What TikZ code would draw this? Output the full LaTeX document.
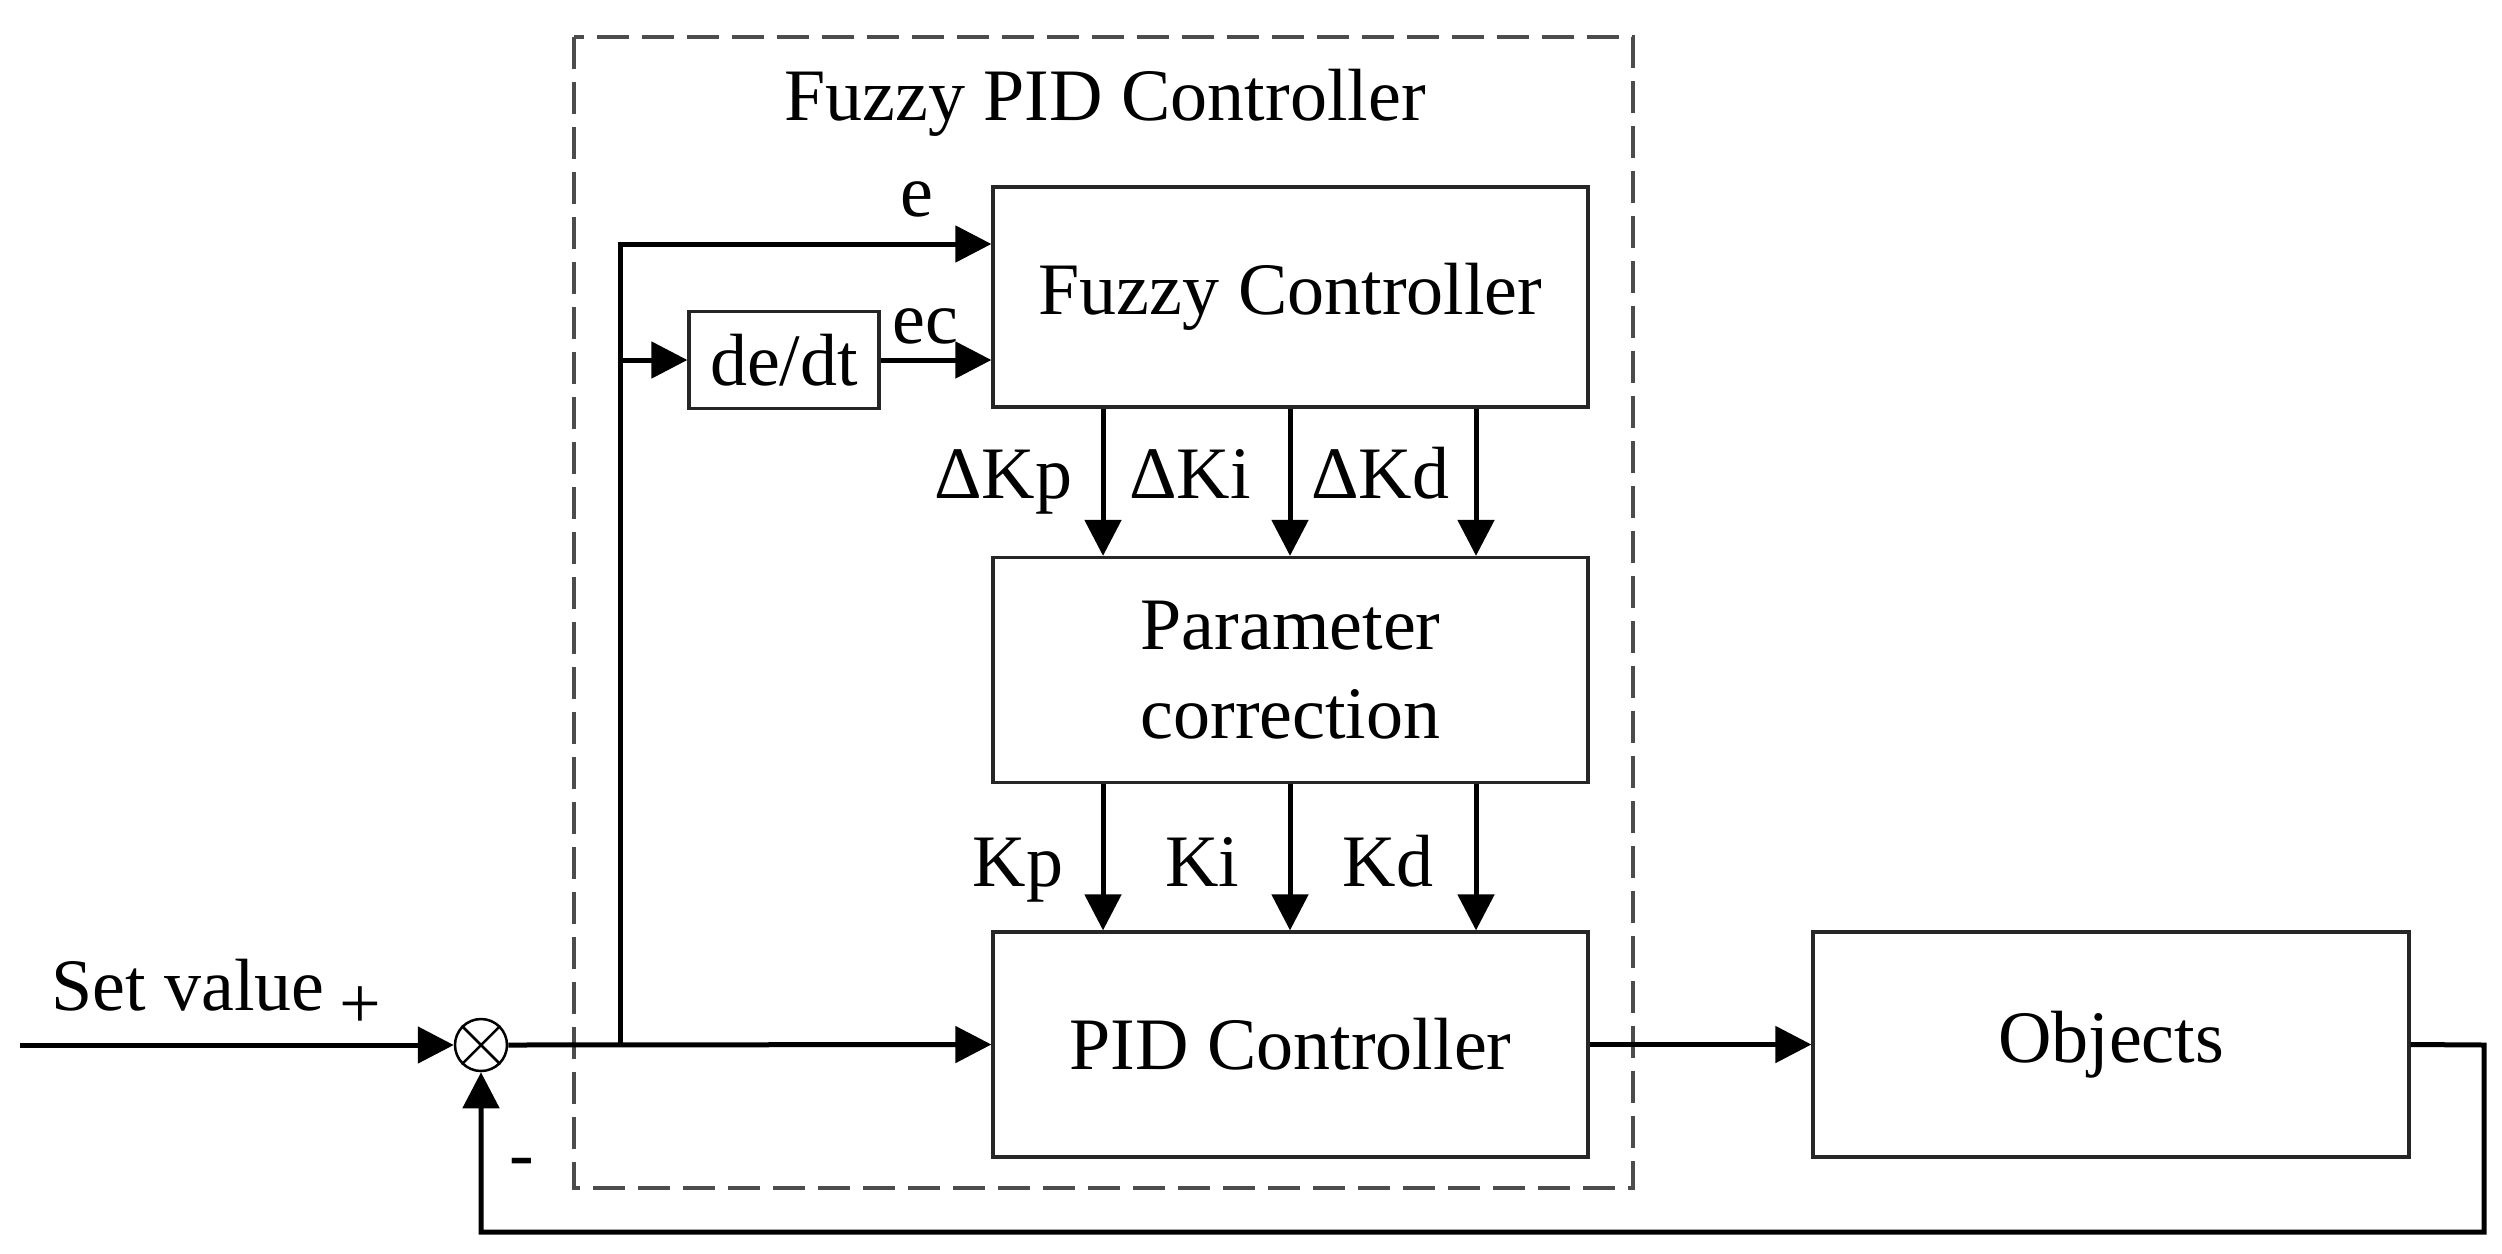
\documentclass[tikz,border=0pt]{standalone}
\usepackage{fontspec}
\setmainfont{Liberation Serif}
\usetikzlibrary{arrows.meta}
\begin{document}
\begin{tikzpicture}[x=0.2pt,y=-0.2pt,
  font=\fontsize{14.8pt}{17.8pt}\selectfont,
  blk/.style={draw=black!85, line width=0.65pt, inner sep=0pt, fill=white},
  conn/.style={line width=1pt, -{Triangle[length=7.2pt,width=7.2pt]}},
  framebox/.style={draw=black!70, line width=0.7pt, dash pattern=on 6.4pt off 2.6pt},
  lbl/.style={anchor=base, inner sep=0pt}]
\useasboundingbox (0,0) rectangle (2502,1253);
\fill[white] (0,0) rectangle (2502,1253);

% dashed frame of the fuzzy PID controller
\draw[framebox] (574,37) rectangle (1633,1188);
\node[lbl] (title) at (1105,120) {Fuzzy PID Controller};

% blocks
\node[blk, minimum width=119pt, minimum height=44pt] (fuzzy) at (1290.5,297) {Fuzzy Controller};
\node[blk, minimum width=38pt, minimum height=19.4pt] (dedt) at (784,360) {de/dt};
\node[blk, minimum width=119pt, minimum height=45pt, align=center] (param) at (1290.5,670) {Parameter\\correction};
\node[blk, minimum width=119pt, minimum height=45pt] (pid) at (1290.5,1044.5) {PID Controller};
\node[blk, minimum width=119.2pt, minimum height=45pt] (obj) at (2111,1044.5) {Objects};

% summing junction
\node[circle, draw, minimum size=10.4pt, inner sep=0pt, line width=0.5pt] (sum) at (481,1045) {};
\draw[line width=0.5pt] (sum.north west) -- (sum.south east) (sum.north east) -- (sum.south west);

% helper coordinates
\coordinate (in) at (20,1045);
\coordinate (br) at (620,1045);
\coordinate (etop) at (620,244);
\coordinate (ecy) at (620,360);
\coordinate (fb1) at (2484,1045);
\coordinate (fb2) at (2484,1232);
\coordinate (a1) at (1103,0);
\coordinate (a2) at (1290,0);
\coordinate (a3) at (1476,0);

% connectors
\draw[conn] (in) -- (sum.west);
\draw[conn] (sum.east) -- (pid.west);
\draw[conn] (br) -- (etop) -- (etop -| fuzzy.west);
\draw[conn] (ecy) -- (dedt.west);
\draw[conn] (dedt.east) -- (dedt.east -| fuzzy.west);
\foreach \a in {a1,a2,a3}{
  \draw[conn] (fuzzy.south -| \a) -- (param.north -| \a);
  \draw[conn] (param.south -| \a) -- (pid.north -| \a);
}
\draw[conn] (pid.east) -- (obj.west);
\draw[conn] (obj.east) -- (fb1) -- (fb2) -| (sum.south);

% labels
\node[lbl] (le) at (917,216) {e};
\node[lbl] (lec) at (925,343) {ec};
\node[lbl] (ldkp) at (1003,498) {ΔKp};
\node[lbl] (ldki) at (1190,498) {ΔKi};
\node[lbl] (ldkd) at (1380,498) {ΔKd};
\node[lbl] (lkp) at (1018,886) {Kp};
\node[lbl] (lki) at (1202,886) {Ki};
\node[lbl] (lkd) at (1388,886) {Kd};
\node[lbl] (lset) at (188,1010) {Set value};
\node[lbl] (lplus) at (360,1028) {+};
\node[lbl] (lminus) at (522,1178) {-};
\end{tikzpicture}
\end{document}
